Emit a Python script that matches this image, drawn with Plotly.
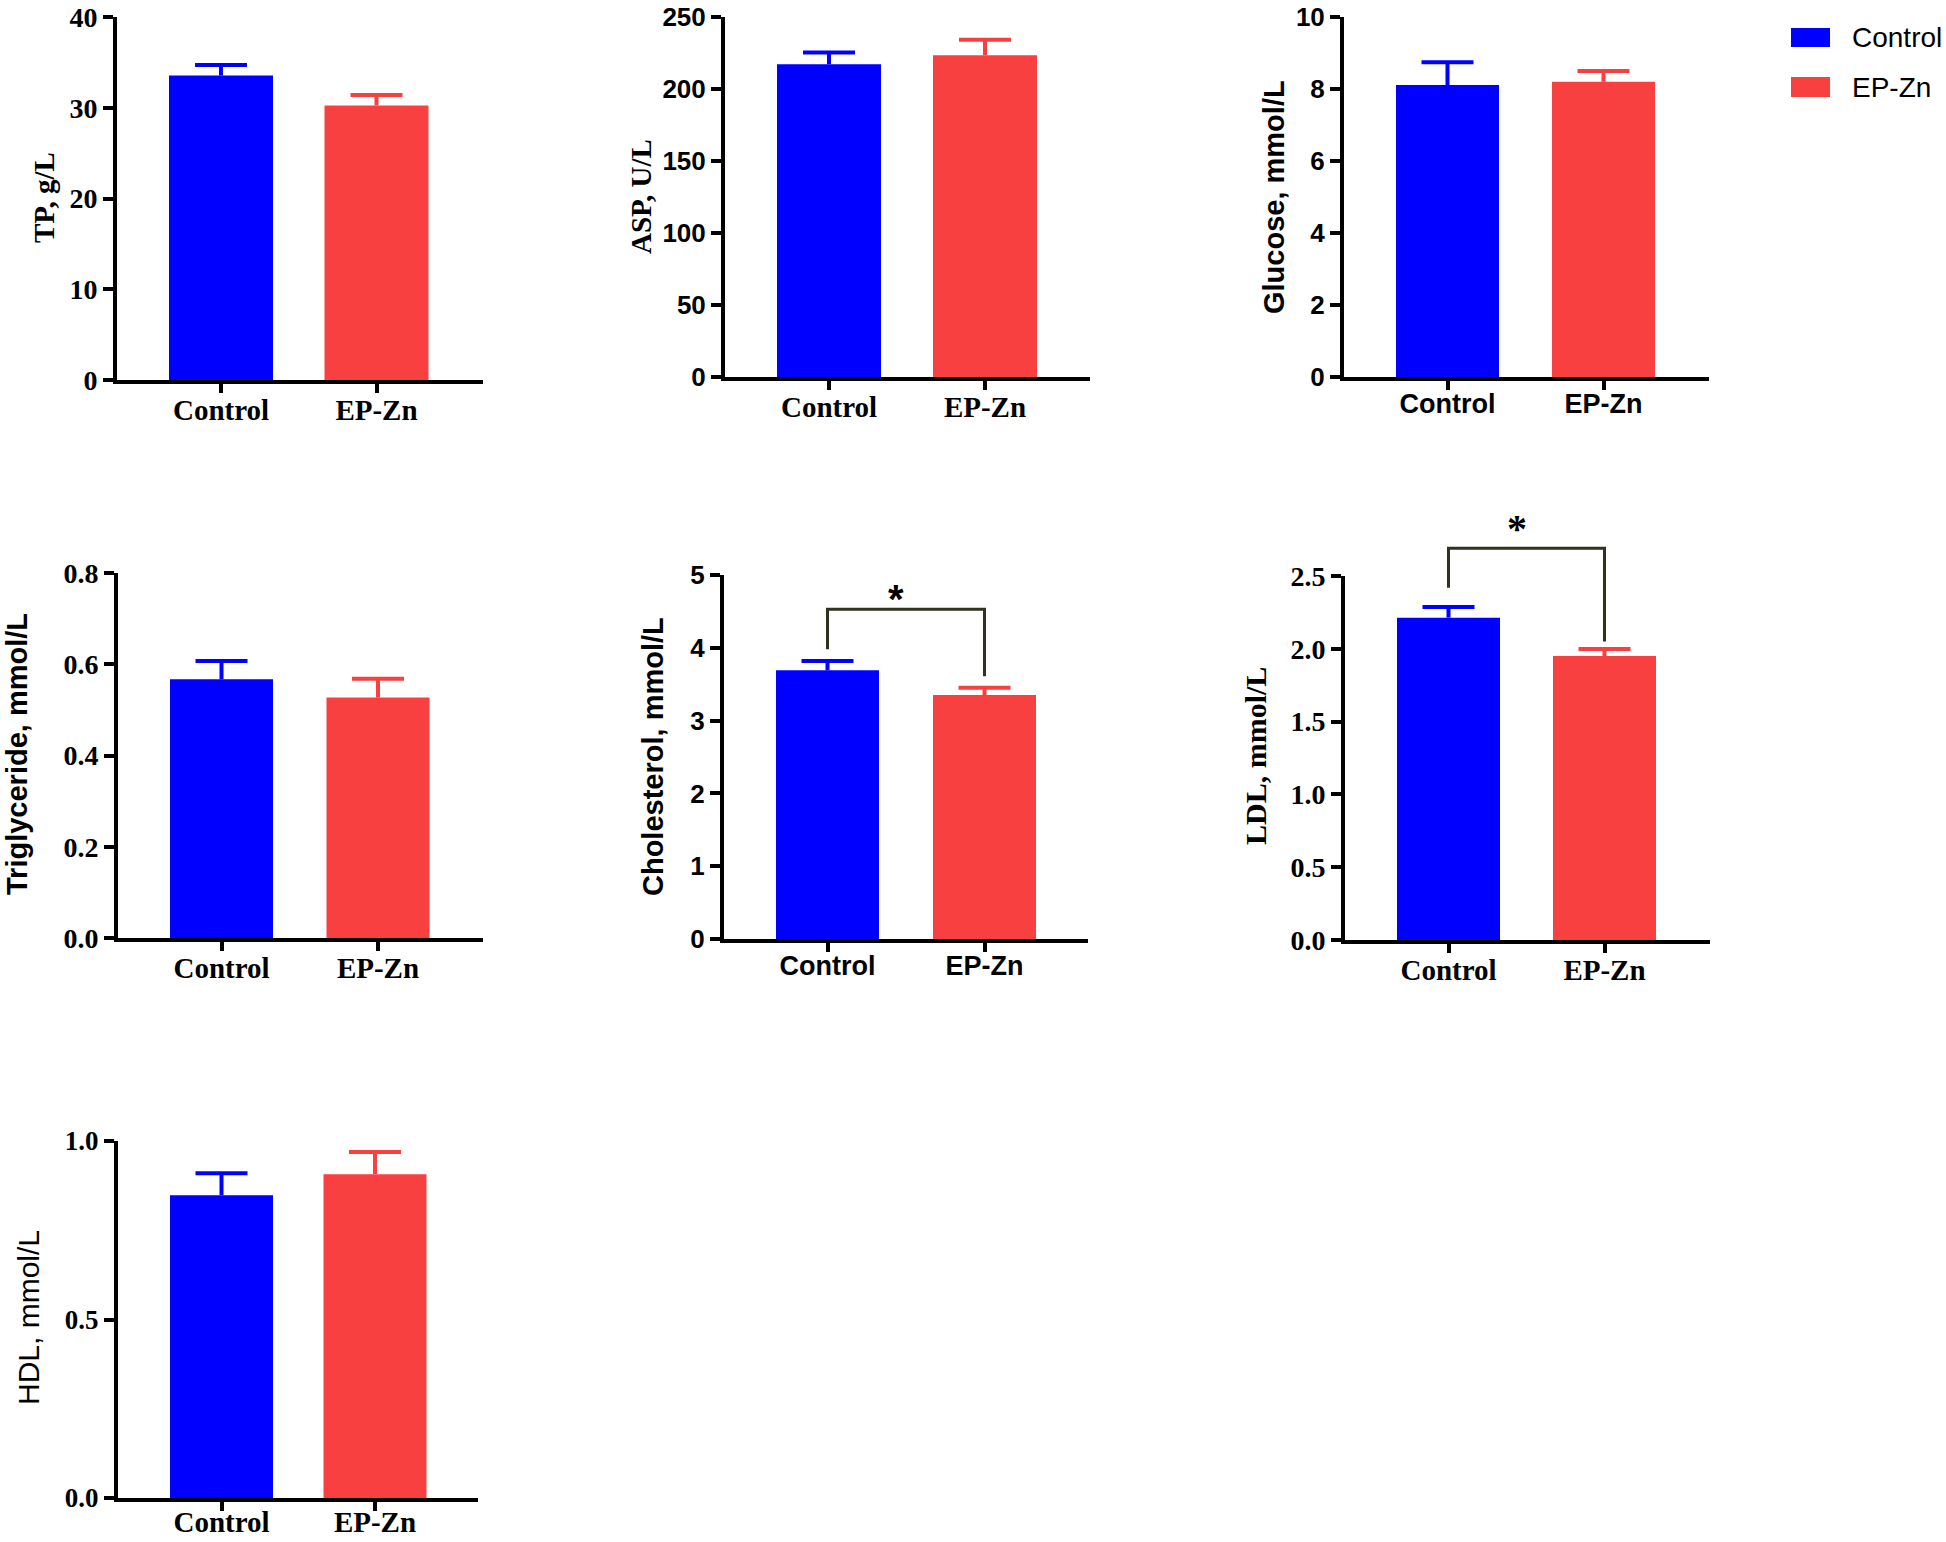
import plotly.graph_objects as go

W, H = 1946, 1542

# ---------------- data ----------------
groups = ["Control", "EP-Zn"]
group_colors = ["#0000FF", "#F84040"]

tp_mean = [33.55, 30.25]
tp_err = [1.15, 1.15]
asp_mean = [217.2, 223.4]
asp_err = [8.1, 10.8]
glu_mean = [8.11, 8.20]
glu_err = [0.63, 0.30]
tg_mean = [0.567, 0.527]
tg_err = [0.040, 0.041]
chol_mean = [3.69, 3.35]
chol_err = [0.13, 0.10]
ldl_mean = [2.214, 1.950]
ldl_err = [0.073, 0.049]
hdl_mean = [0.848, 0.907]
hdl_err = [0.062, 0.062]

y_titles = ["TP, g/L", "ASP, U/L", "Glucose, mmol/L", "Triglyceride, mmol/L",
            "Cholesterol, mmol/L", "LDL, mmol/L", "HDL, mmol/L"]
y_ticks = [
    [0, 10, 20, 30, 40],
    [0, 50, 100, 150, 200, 250],
    [0, 2, 4, 6, 8, 10],
    [0.0, 0.2, 0.4, 0.6, 0.8],
    [0, 1, 2, 3, 4, 5],
    [0.0, 0.5, 1.0, 1.5, 2.0, 2.5],
    [0.0, 0.5, 1.0],
]
y_tickformat = ["d", "d", "d", ".1f", "d", ".1f", ".1f"]

# significance brackets: (panel index, left leg bottom, right leg bottom, bracket top, label)
sig_marks = [
    (4, 3.98, 3.61, 4.53, "*"),
    (5, 2.42, 2.05, 2.69, "*"),
]

means = [tp_mean, asp_mean, glu_mean, tg_mean, chol_mean, ldl_mean, hdl_mean]
errs = [tp_err, asp_err, glu_err, tg_err, chol_err, ldl_err, hdl_err]

# ---------------- layout (pixel geometry) ----------------
# x0: y-axis line, x1: end of x-axis, ytop/ybot: top and zero of y-axis,
# c0/c1: category centres, bar: bar width in px, xlab: x tick label standoff
geom = [
    dict(x0=117, x1=483, ytop=17, ybot=380, c0=221, c1=376.5, bar=104, xlab=-8),
    dict(x0=725, x1=1090, ytop=17, ybot=377, c0=829, c1=985, bar=104, xlab=-8),
    dict(x0=1344, x1=1709, ytop=17, ybot=377, c0=1447.5, c1=1603.5, bar=103, xlab=-9),
    dict(x0=118, x1=483, ytop=573, ybot=938, c0=221.5, c1=378, bar=103, xlab=-8),
    dict(x0=724, x1=1088, ytop=575, ybot=939, c0=827.5, c1=984.5, bar=103, xlab=-9),
    dict(x0=1345, x1=1710, ytop=576, ybot=940, c0=1448.5, c1=1604.5, bar=103, xlab=-8),
    dict(x0=118, x1=478, ytop=1141, ybot=1498, c0=221.5, c1=375, bar=103, xlab=-14),
]
SERIF = "Liberation Serif"
SANS = "Liberation Sans"
# (tick font, tick size, xlabel font, xlabel size, title font, title size, title weight, title cx, title cy)
styles = [
    (SERIF, 28, SERIF, 29, SERIF, 29, "bold", 44, 198),
    (SANS, 26, SERIF, 29, SERIF, 29, "bold", 641, 197),
    (SANS, 26, SANS, 27, SANS, 29, "bold", 1274, 197),
    (SERIF, 28, SERIF, 29, SANS, 29, "bold", 17, 754),
    (SANS, 26, SANS, 27, SANS, 29, "bold", 653, 757),
    (SERIF, 28, SERIF, 29, SERIF, 30, "bold", 1255, 756),
    (SERIF, 27, SERIF, 29, SANS, 30, "normal", 28, 1318),
]
BRACKET_COLOR = "#2E3320"
CAP_HALF_PX = 26


def fx(px):
    return px / W


def fy(py):
    return 1 - py / H


fig = go.Figure()
shapes = []
annotations = []

for i in range(7):
    g = geom[i]
    n = "" if i == 0 else str(i + 1)
    ppu = g["c1"] - g["c0"]
    r0 = -(g["c0"] - g["x0"]) / ppu
    r1 = 1 + (g["x1"] - g["c1"]) / ppu
    bw = g["bar"] / ppu
    hw = CAP_HALF_PX / ppu
    ymax = y_ticks[i][-1]
    tfont, tsize, xfont, xsize, ttfont, ttsize, ttw, tcx, tcy = styles[i]

    for k in range(2):
        fig.add_trace(go.Bar(
            x=[k], y=[means[i][k]], width=bw,
            marker=dict(color=group_colors[k], line=dict(width=0)),
            name=groups[k], showlegend=False,
            xaxis="x" + n, yaxis="y" + n,
        ))
        top = means[i][k] + errs[i][k]
        # upper error bar: stem from bar top plus cap
        fig.add_trace(go.Scatter(
            x=[k, k, None, k - hw, k + hw],
            y=[means[i][k], top, None, top, top],
            mode="lines", line=dict(color=group_colors[k], width=4),
            showlegend=False, hoverinfo="skip",
            xaxis="x" + n, yaxis="y" + n,
        ))

    fig.update_layout(**{
        "xaxis" + n: dict(
            domain=[fx(g["x0"]), fx(g["x1"])], anchor="y" + n,
            range=[r0, r1], tickvals=[0, 1], ticktext=groups,
            showgrid=False, zeroline=False, automargin=False,
            showline=True, linecolor="black", linewidth=4,
            ticks="outside", ticklen=9, tickwidth=4, tickcolor="black",
            ticklabelstandoff=g["xlab"], ticklabeloverflow="allow",
            tickfont=dict(family=xfont, size=xsize, color="black", weight="bold"),
            fixedrange=True,
        ),
        "yaxis" + n: dict(
            domain=[fy(g["ybot"]), fy(g["ytop"])], anchor="x" + n,
            range=[0, ymax], tickvals=y_ticks[i], tickformat=y_tickformat[i],
            showgrid=False, zeroline=False, automargin=False,
            showline=True, linecolor="black", linewidth=4,
            ticks="outside", ticklen=10, tickwidth=4, tickcolor="black",
            ticklabeloverflow="allow",
            tickfont=dict(family=tfont, size=tsize, color="black", weight="bold"),
            fixedrange=True,
        ),
    })

    annotations.append(dict(
        text=y_titles[i], xref="paper", yref="paper", x=fx(tcx), y=fy(tcy),
        xanchor="center", yanchor="middle", textangle=-90, showarrow=False,
        font=dict(family=ttfont, size=ttsize, color="black", weight=ttw),
    ))

# significance brackets (mapped through each panel's axis range and domain)
for (i, yl, yr, yt, label) in sig_marks:
    g = geom[i]
    ppu = g["c1"] - g["c0"]
    ymax = y_ticks[i][-1]

    def px_of(idx):
        return g["c0"] + idx * ppu

    def py_of(v):
        return g["ybot"] - v * (g["ybot"] - g["ytop"]) / ymax

    xl, xr = px_of(0), px_of(1)
    pts = [(xl, py_of(yl)), (xl, py_of(yt)), (xr, py_of(yt)), (xr, py_of(yr))]
    path = "M " + " L ".join(f"{fx(a):.5f},{fy(b):.5f}" for a, b in pts)
    shapes.append(dict(type="path", path=path, xref="paper", yref="paper",
                       line=dict(color=BRACKET_COLOR, width=3)))
    serif_star = i == 5
    annotations.append(dict(
        text=label, xref="paper", yref="paper", x=fx((xl + xr) / 2 - 10), y=fy(py_of(yt) - 18),
        xanchor="center", yanchor="middle", showarrow=False, yshift=2 if serif_star else -8,
        font=dict(family=SERIF if serif_star else SANS, size=40, color="black", weight="bold"),
    ))

# legend
leg_rows = [(28, 47), (77, 97)]
for k in range(2):
    ya, yb = leg_rows[k]
    shapes.append(dict(type="rect", xref="paper", yref="paper",
                       x0=fx(1791), x1=fx(1830), y0=fy(yb), y1=fy(ya),
                       fillcolor=group_colors[k], line=dict(width=0)))
    annotations.append(dict(
        text=groups[k], xref="paper", yref="paper", x=fx(1850), y=fy((ya + yb) / 2),
        xanchor="left", yanchor="middle", showarrow=False,
        font=dict(family=SANS, size=28, color="black"),
    ))

fig.update_layout(
    template="none",
    width=W, height=H, margin=dict(l=0, r=0, t=0, b=0, pad=0, autoexpand=False),
    paper_bgcolor="white", plot_bgcolor="white",
    barmode="overlay", showlegend=False,
    shapes=shapes, annotations=annotations,
)

fig.write_html(
    "out.html",
    config={"displayModeBar": False, "staticPlot": True},
    post_script="document.body.style.margin='0';document.body.style.overflow='hidden';",
)
